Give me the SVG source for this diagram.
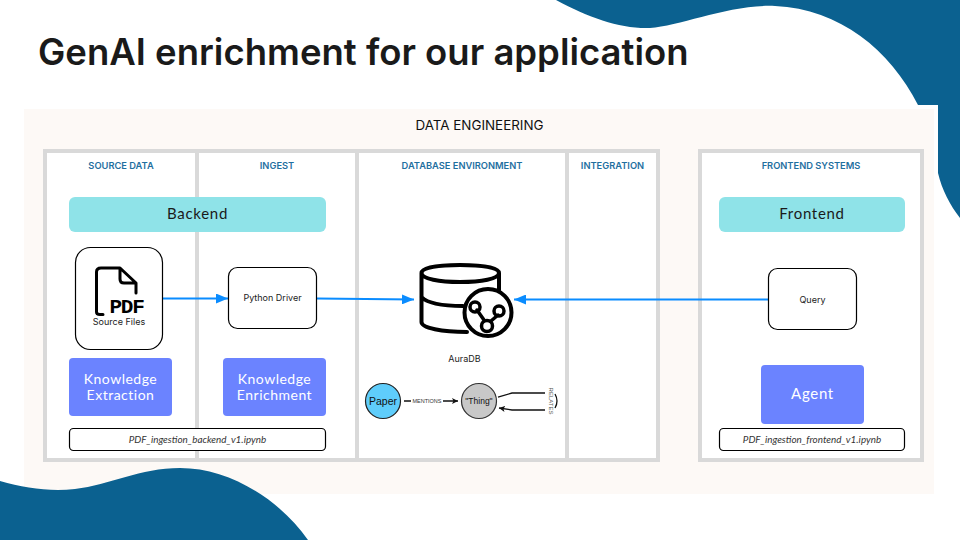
<svg xmlns="http://www.w3.org/2000/svg" width="960" height="540" viewBox="0 0 960 540">
<style>
.blob{fill:#0b6190}
.col{fill:#fff;stroke:#d9d9d9;stroke-width:4}
.hdr{font:600 9.3px "Inter","Liberation Sans",sans-serif;fill:#1f6f9f;text-anchor:middle}
.teal{fill:#8fe3e8}
.blue{fill:#6b83ff}
.lbl{font:15px "Lato","Liberation Sans",sans-serif;text-anchor:middle;letter-spacing:.7px}
.lb2{font:14px "Lato","Liberation Sans",sans-serif;text-anchor:middle;letter-spacing:.5px}
.w{fill:#fff}
.d{fill:#1a1a1a}
.box{fill:#fff;stroke:#000;stroke-width:1.2}
.small{font:9px "Inter","Liberation Sans",sans-serif;fill:#222;text-anchor:middle}
.nb{font:italic 9.9px "Lato","Liberation Sans",sans-serif;fill:#333;text-anchor:middle}
.conn{fill:none;stroke:#0a8cff;stroke-width:2}
.ic{fill:none;stroke:#000;stroke-linecap:round;stroke-linejoin:round}
.gl{fill:none;stroke:#111;stroke-width:1.3}
</style>
<defs>
<marker id="ah" markerUnits="userSpaceOnUse" markerWidth="13" markerHeight="10" refX="12" refY="5" orient="auto"><path d="M0 0L12 5L0 10Z" fill="#0a8cff"/></marker>
<marker id="bh" markerUnits="userSpaceOnUse" markerWidth="7" markerHeight="6" refX="6" refY="3" orient="auto"><path d="M0 0L6 3L0 6L1.500 3Z" fill="#111"/></marker>
</defs>
<rect width="960" height="540" fill="#fff"/>
<path id="blob-top" class="blob" d="M556 0C590 18 620 29 650 28C680 26 730 4 775 6C840 9 890 50 918 105L938 105L938 173C942 190 950 205 960 218L960 0Z"/>
<text id="title" x="38" y="65" font-family="Inter,Liberation Sans,sans-serif" font-size="36.500" font-weight="600" fill="#1a1a1a">GenAI enrichment for our application</text>
<rect x="20" y="105" width="918" height="393" fill="#fff"/>
<rect id="panel" x="24" y="109" width="910" height="385" fill="#fdf9f6"/>
<text x="479.500" y="130" font-family="Inter,Liberation Sans,sans-serif" font-size="13.400" font-weight="400" text-anchor="middle" fill="#111">DATA ENGINEERING</text>
<g id="columns">
<rect class="col" x="45" y="151" width="152" height="309"/>
<rect class="col" x="197" y="151" width="160" height="309"/>
<rect class="col" x="357" y="151" width="210" height="309"/>
<rect class="col" x="567" y="151" width="91" height="309"/>
<rect class="col" x="700" y="151" width="222" height="309"/>
<text class="hdr" x="121" y="168.500">SOURCE DATA</text>
<text class="hdr" x="277" y="168.500">INGEST</text>
<text class="hdr" x="462" y="168.500">DATABASE ENVIRONMENT</text>
<text class="hdr" x="612.500" y="168.500">INTEGRATION</text>
<text class="hdr" x="811" y="168.500">FRONTEND SYSTEMS</text>
</g>
<g id="connectors">
<path class="conn" d="M163 298.500H228" marker-end="url(#ah)"/>
<path class="conn" d="M317 298.500L414 299.500" marker-end="url(#ah)"/>
<path class="conn" d="M768 299.500H514" marker-end="url(#ah)"/>
</g>
<g id="backend"><rect class="teal" x="69" y="197" width="257" height="35" rx="6"/><text class="lbl d" x="197.500" y="219">Backend</text></g>
<g id="frontend"><rect class="teal" x="719" y="197" width="186" height="35" rx="6"/><text class="lbl d" x="812" y="219">Frontend</text></g>
<g id="source-files">
<rect class="box" x="75.500" y="247.500" width="87" height="102" rx="15"/>
<path class="ic" stroke-width="3" d="M120 268H101Q96.500 268 96.500 272V312Q96.500 314.500 100 314.500H103M120 268V279Q120 283 124 283H136M120 268L136 283V293"/>
<text x="126.500" y="313" font-family="Liberation Mono,monospace" font-size="21" font-weight="700" text-anchor="middle" fill="#000" letter-spacing="-1.200">PDF</text>
<text class="small" x="119" y="325">Source Files</text>
</g>
<g id="python-driver"><rect class="box" x="228.500" y="267.500" width="88" height="61" rx="9"/><text class="small" x="272.500" y="301">Python Driver</text></g>
<g id="query"><rect class="box" x="768.500" y="268.500" width="88" height="61" rx="9"/><text class="small" x="812.500" y="303">Query</text></g>
<g id="knowledge-extraction"><rect class="blue" x="69" y="358" width="103" height="58" rx="4"/><text class="lb2 w" x="120.500" y="384">Knowledge</text><text class="lb2 w" x="120.500" y="400">Extraction</text></g>
<g id="knowledge-enrichment"><rect class="blue" x="223" y="358" width="103" height="58" rx="4"/><text class="lb2 w" x="274.500" y="384">Knowledge</text><text class="lb2 w" x="274.500" y="400">Enrichment</text></g>
<g id="agent"><rect class="blue" x="761" y="365" width="103" height="59" rx="4"/><text class="lbl w" x="812.500" y="399">Agent</text></g>
<g id="nb-backend"><rect class="box" x="69.500" y="428.500" width="256" height="22" rx="4"/><text class="nb" x="197.500" y="443">PDF_ingestion_backend_v1.ipynb</text></g>
<g id="nb-frontend"><rect class="box" x="719.500" y="428.500" width="185" height="22" rx="4"/><text class="nb" x="812" y="443">PDF_ingestion_frontend_v1.ipynb</text></g>
<g id="auradb">
<path class="ic" stroke-width="4" d="M421.500 273V322C421.500 328 442 332 467 332M499 273V290M421.500 297C428 304 445 306 463 306M421.500 273C421.500 279 440 282 460 282C481 282 499 279 499 273C499 267 481 265 460 265C440 265 421.500 267 421.500 273Z"/>
<circle cx="488" cy="312.500" r="23.500" stroke="#000" stroke-width="4" fill="#fff"/>
<path class="ic" stroke-width="3.500" d="M477 310L484 320M498 315L491 321"/>
<circle class="ic" cx="475" cy="307" r="5" stroke-width="3.500"/>
<circle class="ic" cx="499" cy="311" r="5" stroke-width="3.500"/>
<circle class="ic" cx="487" cy="326" r="5.500" stroke-width="3.500"/>
<text class="small" x="464.500" y="362">AuraDB</text>
</g>
<g id="graph-model">
<circle cx="383" cy="401" r="17.500" fill="#5fcdfb" stroke="#222" stroke-width="1.200"/>
<text x="383" y="405" font-family="Liberation Sans,sans-serif" font-size="10.500" text-anchor="middle" fill="#111">Paper</text>
<circle cx="479" cy="401" r="17.500" fill="#c8c8c8" stroke="#333" stroke-width="1.200"/>
<text x="479" y="404" font-family="Liberation Sans,sans-serif" font-size="8.500" text-anchor="middle" fill="#111">"Thing"</text>
<path class="gl" d="M404 401H411M443 401H458" marker-end="url(#bh)"/>
<text x="427" y="403" font-family="Liberation Sans,sans-serif" font-size="5.500" text-anchor="middle" fill="#333">MENTIONS</text>
<path class="gl" d="M498 397L512 393H545M545 410H512L499 408" marker-end="url(#bh)"/>
<path class="gl" d="M555 394Q559 401 555 408"/>
<text transform="translate(549 401) rotate(90)" font-family="Liberation Sans,sans-serif" font-size="6" text-anchor="middle" fill="#555">RELATES</text>
</g>
<path id="blob-bottom" class="blob" d="M0 481C25 488 50 492 75 489C110 485 140 468 180 468C230 468 280 500 308 540L0 540Z"/>
</svg>
